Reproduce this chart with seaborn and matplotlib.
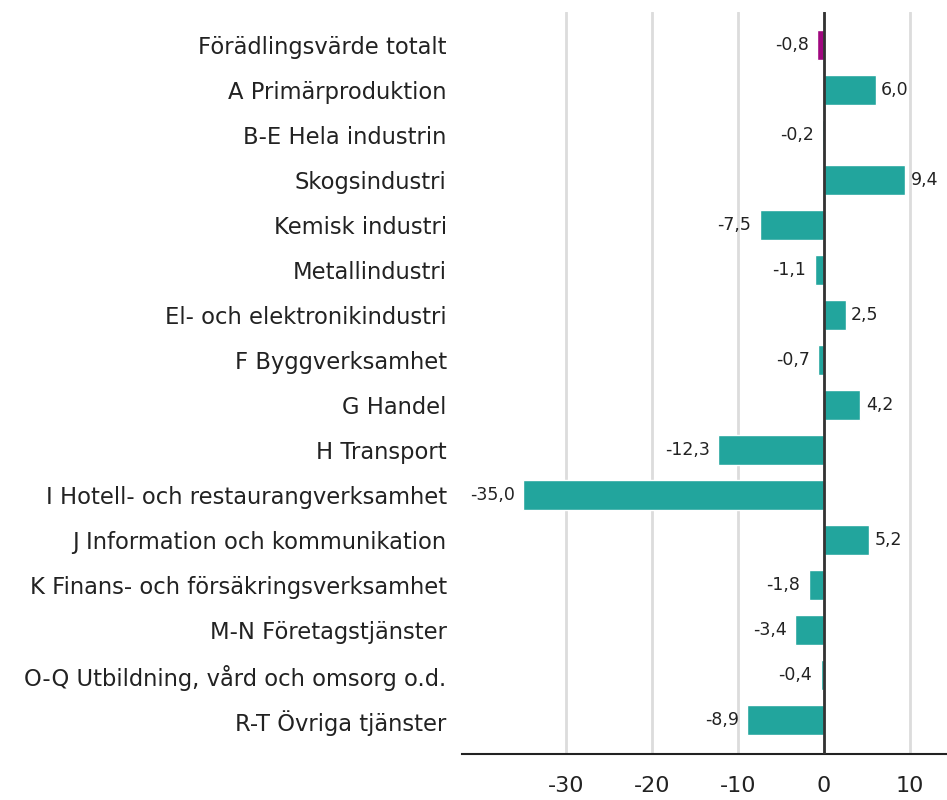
import pandas as pd
import matplotlib.pyplot as plt
import seaborn as sns

categories = [
    "Förädlingsvärde totalt",
    "A Primärproduktion",
    "B-E Hela industrin",
    "Skogsindustri",
    "Kemisk industri",
    "Metallindustri",
    "El- och elektronikindustri",
    "F Byggverksamhet",
    "G Handel",
    "H Transport",
    "I Hotell- och restaurangverksamhet",
    "J Information och kommunikation",
    "K Finans- och försäkringsverksamhet",
    "M-N Företagstjänster",
    "O-Q Utbildning, vård och omsorg o.d.",
    "R-T Övriga tjänster",
]
values = [-0.8, 6.0, -0.2, 9.4, -7.5, -1.1, 2.5, -0.7, 4.2, -12.3, -35.0, 5.2, -1.8, -3.4, -0.4, -8.9]
groups = ["total"] + ["sector"] * 15

df = pd.DataFrame({"category": categories, "value": values, "group": groups})

sns.set_style("white")
plt.rcParams["font.family"] = ["DejaVu Sans"]

fig = plt.figure(figsize=(9.47, 8), dpi=100)
ax = fig.add_axes([462 / 947, 1 - 754 / 800, (947 - 462) / 947, (754 - 12) / 800])

sns.barplot(
    data=df, x="value", y="category", hue="group",
    palette={"total": "#a0087f", "sector": "#22a59d"},
    saturation=1, dodge=False, width=0.67, legend=False, ax=ax, orient="h",
)

ax.set_xlim(-42.1, 14.3)
ax.set_ylim(15.75, -0.73)
ax.set_xticks([-30, -20, -10, 0, 10])
ax.set_xticklabels(["-30", "-20", "-10", "0", "10"])
ax.xaxis.grid(True, color="#dcdcdc", linewidth=2)
ax.set_axisbelow(True)
ax.axvline(0, color="#333333", linewidth=2, zorder=5)

for side in ["top", "right", "left"]:
    ax.spines[side].set_visible(False)
ax.spines["bottom"].set_color("#222222")
ax.spines["bottom"].set_linewidth(1.5)

ax.tick_params(axis="x", length=8, width=2.2, color="#666666", labelsize=16, pad=8,
               labelcolor="#222222")
ax.tick_params(axis="y", length=0, labelsize=16.3, pad=11, labelcolor="#222222")
ax.set_xlabel("")
ax.set_ylabel("")

for i, v in enumerate(values):
    label = f"{v:.1f}".replace(".", ",")
    if v >= 0:
        ax.annotate(label, (v, i), xytext=(4, 0), textcoords="offset points",
                    va="center", ha="left", fontsize=12.5, color="#222222")
    else:
        ax.annotate(label, (v, i), xytext=(-6, 0), textcoords="offset points",
                    va="center", ha="right", fontsize=12.5, color="#222222")

fig.savefig("out.png", dpi=100)
